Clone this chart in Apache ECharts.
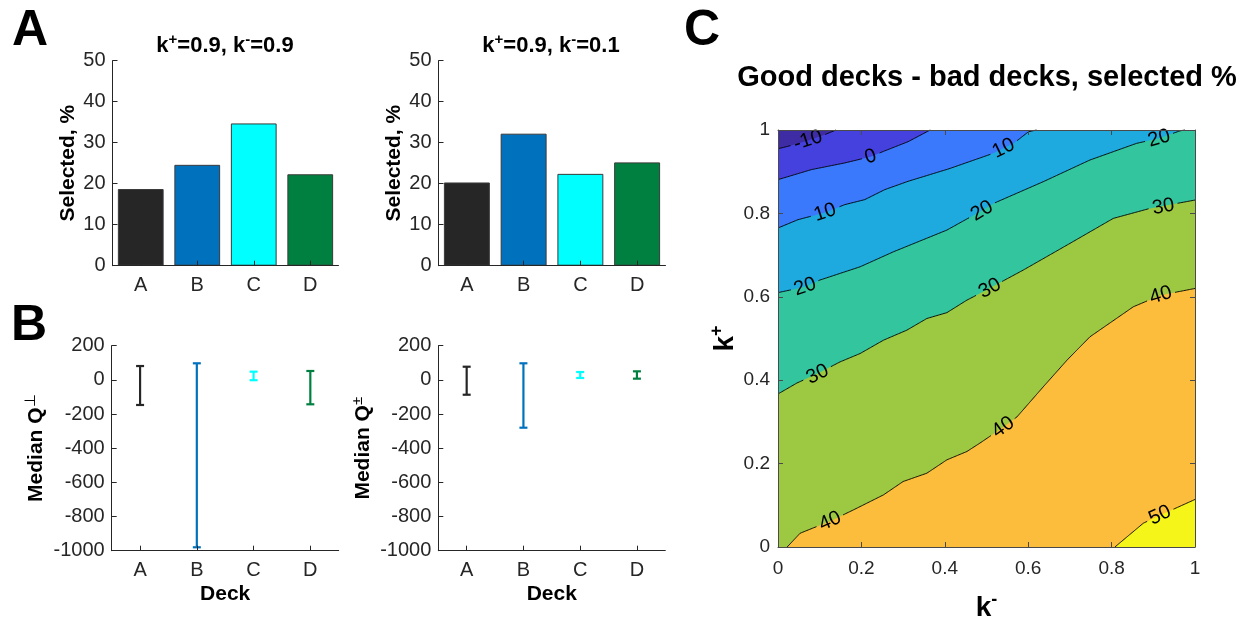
<!DOCTYPE html>
<html><head><meta charset="utf-8">
<script src="https://cdn.jsdelivr.net/npm/echarts@6/dist/echarts.min.js"></script>
<style>html,body{margin:0;padding:0;background:#fff}#c{width:1245px;height:622px}</style>
</head><body><div id="c"></div>
<script>
// ---------- data ----------
const decks = ['A', 'B', 'C', 'D'];
const selectedLeft = [18.7, 24.6, 34.7, 22.3];   // k+=0.9, k-=0.9
const selectedRight = [20.3, 32.2, 22.4, 25.2];  // k+=0.9, k-=0.1
const qLowLeft = [-147, -980, -2, -143];
const qHighLeft = [81, 97, 48, 52];
const qLowRight = [-87, -280, 11, 7];
const qHighRight = [77, 97, 46, 50];

const contourLevels = [-10, 0, 10, 20, 30, 40, 50];
// contour lines, points [k-, k+]
const lineM10 = [[0,0.955],[0.04,0.965],[0.072,0.975],[0.11,0.988],[0.139,1]];
const line0 = [[0,0.881],[0.08,0.905],[0.16,0.921],[0.222,0.936],[0.256,0.95],[0.312,0.972],[0.365,1]];
const line10 = [[0,0.765],[0.048,0.785],[0.113,0.802],[0.16,0.821],[0.208,0.833],[0.256,0.857],[0.312,0.877],[0.41,0.907],[0.516,0.944],[0.565,0.968],[0.601,0.996],[0.62,1]];
const line20 = [[0,0.61],[0.065,0.624],[0.10,0.64],[0.197,0.672],[0.277,0.708],[0.405,0.76],[0.477,0.80],[0.517,0.824],[0.636,0.876],[0.748,0.928],[0.86,0.968],[0.914,0.98],[0.964,0.998],[0.976,1]];
const line30 = [[0,0.367],[0.045,0.393],[0.095,0.416],[0.149,0.444],[0.197,0.464],[0.253,0.496],[0.309,0.52],[0.357,0.548],[0.405,0.562],[0.453,0.592],[0.484,0.608],[0.588,0.664],[0.70,0.728],[0.804,0.788],[0.892,0.812],[1,0.832]];
const line40 = [[0.022,0],[0.053,0.033],[0.125,0.062],[0.181,0.089],[0.253,0.125],[0.30,0.157],[0.357,0.177],[0.405,0.209],[0.453,0.229],[0.484,0.249],[0.54,0.287],[0.573,0.312],[0.636,0.384],[0.693,0.448],[0.748,0.504],[0.852,0.576],[0.918,0.604],[1,0.62]];
const line50 = [[0.808,0],[0.876,0.057],[0.916,0.076],[1,0.114]];
const contourLines = [lineM10, line0, line10, line20, line30, line40, line50];
// contour labels: [level, k-, k+]
const contourLabels = [[-10,0.072,0.975],[0,0.222,0.936],[10,0.113,0.802],[10,0.541,0.956],
  [20,0.065,0.624],[20,0.489,0.806],[20,0.914,0.98],[30,0.095,0.414],[30,0.508,0.62],[30,0.924,0.816],
  [40,0.125,0.062],[40,0.54,0.287],[40,0.918,0.604],[50,0.916,0.076]];

// ---------- styles ----------
const FONT = "'Liberation Sans', Arial, Helvetica, sans-serif";
const AX = '#262626';
const deckColors = ['#262626', '#0072bd', '#00ffff', '#008040'];
const levelColors = ['#3e2ca5', '#4541df', '#3a78fc', '#1ea9df', '#33c59e', '#9dc841', '#fcbd3c', '#f5f519'];
const LABEL_FS = 20;

const grids = [
  {left: 112.5, top: 60.7, width: 226, height: 205},
  {left: 438.5, top: 60.7, width: 227, height: 205},
  {left: 111.7, top: 345.7, width: 227, height: 205},
  {left: 438.3, top: 345.7, width: 227, height: 205},
  {left: 778, top: 130, width: 417, height: 417}
].map(g => Object.assign(g, {containLabel: false, outerBoundsMode: 'none'}));

function catAxis(gi, extra) {
  return Object.assign({
    gridIndex: gi, type: 'category', data: decks, z: 5,
    axisLine: {show: true, onZero: false, lineStyle: {color: AX, width: 1}},
    axisTick: {show: true, inside: true, alignWithLabel: true, length: 5, lineStyle: {color: AX}},
    axisLabel: {color: AX, fontSize: 20, fontFamily: FONT, margin: 10},
    splitLine: {show: false}
  }, extra || {});
}
function valAxis(gi, min, max, interval, extra) {
  return Object.assign({
    gridIndex: gi, type: 'value', min: min, max: max, interval: interval, z: 5,
    axisLine: {show: true, onZero: false, lineStyle: {color: AX, width: 1}},
    axisTick: {show: true, inside: true, length: 5, lineStyle: {color: AX}},
    axisLabel: {color: AX, fontSize: 20, fontFamily: FONT, margin: 7, formatter: v => String(v)},
    splitLine: {show: false}
  }, extra || {});
}
const nameStyle = {fontFamily: FONT, fontSize: 21, fontWeight: 'bold', color: '#000'};
const supRich = (big, small, supWeight) => ({
  b: {fontFamily: FONT, fontSize: big, fontWeight: 'bold', color: '#000', lineHeight: big * 1.25},
  s: {fontFamily: FONT, fontSize: small, fontWeight: supWeight || 'bold', color: '#000', verticalAlign: 'top', lineHeight: small}
});
const cAxisStyle = {
  axisLine: {show: true, onZero: false, lineStyle: {color: '#4a4a4a', width: 1}},
  axisTick: {show: true, inside: true, length: 5, lineStyle: {color: '#4a4a4a'}},
  axisLabel: {color: AX, fontSize: 19, fontFamily: FONT, margin: 12, formatter: v => String(v)}
};

const xAxes = [
  catAxis(0), catAxis(1),
  catAxis(2, {name: 'Deck', nameLocation: 'middle', nameGap: 33, nameTextStyle: nameStyle}),
  catAxis(3, {name: 'Deck', nameLocation: 'middle', nameGap: 33, nameTextStyle: nameStyle}),
  valAxis(4, 0, 1, 0.2, Object.assign({}, cAxisStyle, {name: '{b|k}{s|-}', nameLocation: 'middle', nameGap: 44,
    nameTextStyle: {rich: supRich(28, 18)}})),
  valAxis(4, 0, 1, 0.2, Object.assign({}, cAxisStyle, {position: 'top', axisLabel: {show: false}}))
];
const yAxes = [
  valAxis(0, 0, 50, 10, {name: 'Selected, %', nameLocation: 'middle', nameGap: 34, nameTextStyle: nameStyle}),
  valAxis(1, 0, 50, 10, {name: 'Selected, %', nameLocation: 'middle', nameGap: 34, nameTextStyle: nameStyle}),
  valAxis(2, -1000, 200, 200, {name: '{b|Median Q}{s|⊥}', nameLocation: 'middle', nameGap: 62, nameTextStyle: {rich: supRich(21, 15, 'normal')}}),
  valAxis(3, -1000, 200, 200, {name: '{b|Median Q}{s|±}', nameLocation: 'middle', nameGap: 62, nameTextStyle: {rich: supRich(21, 15, 'normal')}}),
  valAxis(4, 0, 1, 0.2, Object.assign({}, cAxisStyle, {axisLabel: Object.assign({}, cAxisStyle.axisLabel, {margin: 8}),
    name: '{b|k}{s|+}', nameLocation: 'middle', nameGap: 35, nameTextStyle: {rich: supRich(28, 18)}})),
  valAxis(4, 0, 1, 0.2, Object.assign({}, cAxisStyle, {position: 'right', axisLabel: {show: false}}))
];

function barSeries(idx, values) {
  return {
    type: 'bar', xAxisIndex: idx, yAxisIndex: idx, barCategoryGap: '19%', z: 2,
    data: values.map((v, i) => ({value: v, itemStyle: {color: deckColors[i], borderColor: '#3a3a3a', borderWidth: 1}}))
  };
}
function errSeries(idx, lows, highs) {
  return {
    type: 'custom', xAxisIndex: idx, yAxisIndex: idx, z: 3,
    data: lows.map((l, i) => [i, l, highs[i]]),
    encode: {x: 0, y: [1, 2]},
    renderItem: (params, api) => {
      const i = api.value(0);
      const p1 = api.coord([i, api.value(1)]);
      const p2 = api.coord([i, api.value(2)]);
      const c = deckColors[params.dataIndex];
      const st = {stroke: c, lineWidth: 2.2};
      const hw = 4;
      return {type: 'group', children: [
        {type: 'line', shape: {x1: p1[0], y1: p1[1], x2: p2[0], y2: p2[1]}, style: st},
        {type: 'line', shape: {x1: p1[0] - hw, y1: p1[1], x2: p1[0] + hw, y2: p1[1]}, style: st},
        {type: 'line', shape: {x1: p2[0] - hw, y1: p2[1], x2: p2[0] + hw, y2: p2[1]}, style: st}
      ]};
    }
  };
}

// region polygon lying on the high side (lower-right) of a contour line
function boundaryT(p) {
  const e = 1e-6, x = p[0], y = p[1];
  if (y >= 1 - e) return x;
  if (x >= 1 - e) return 1 + (1 - y);
  if (y <= e) return 2 + (1 - x);
  return 3 + y;
}
const corners = [[1, 1], [1, 0], [0, 0], [0, 1]];
function regionPolygon(line) {
  const pts = line.slice();
  const te = boundaryT(line[line.length - 1]);
  let ts = boundaryT(line[0]);
  if (ts <= te) ts += 4;
  for (let k = 1; k <= 8; k++) if (k > te && k < ts) pts.push(corners[(k - 1) % 4]);
  return pts;
}
function gapRadius(lvl) {
  const s = String(lvl);
  const w = (s.replace('-', '').length * 0.556 + (lvl < 0 ? 0.333 : 0)) * LABEL_FS;
  return w / 2 + 3;
}
function densify(api, line) {
  const px = line.map(p => api.coord(p));
  const dense = [];
  for (let i = 0; i < px.length - 1; i++) {
    const a = px[i], b = px[i + 1];
    const L = Math.hypot(b[0] - a[0], b[1] - a[1]);
    const n = Math.max(1, Math.ceil(L / 1.5));
    for (let k = 0; k < n; k++) { const t = k / n; dense.push([a[0] + (b[0] - a[0]) * t, a[1] + (b[1] - a[1]) * t]); }
  }
  dense.push(px[px.length - 1]);
  return dense;
}

const series = [
  barSeries(0, selectedLeft),
  barSeries(1, selectedRight),
  errSeries(2, qLowLeft, qHighLeft),
  errSeries(3, qLowRight, qHighRight),
  { // filled contour regions
    type: 'custom', xAxisIndex: 4, yAxisIndex: 4, z: 1, silent: true,
    data: levelColors.map((c, i) => [i]),
    renderItem: (params, api) => {
      const i = params.dataIndex;
      const poly = i === 0 ? [[0, 0], [1, 0], [1, 1], [0, 1]] : regionPolygon(contourLines[i - 1]);
      return {type: 'polygon', shape: {points: poly.map(p => api.coord(p))}, style: {fill: levelColors[i], stroke: null}};
    }
  },
  { // contour lines with gaps at labels
    type: 'custom', xAxisIndex: 4, yAxisIndex: 4, z: 2, silent: true,
    data: contourLevels.map((l, i) => [i]),
    renderItem: (params, api) => {
      const i = params.dataIndex, lvl = contourLevels[i];
      const dense = densify(api, contourLines[i]);
      const labs = contourLabels.filter(l => l[0] === lvl).map(l => ({c: api.coord([l[1], l[2]]), r: gapRadius(l[0])}));
      const pieces = []; let cur = [];
      dense.forEach(p => {
        const hid = labs.some(l => Math.hypot(p[0] - l.c[0], p[1] - l.c[1]) < l.r);
        if (hid) { if (cur.length > 1) pieces.push(cur); cur = []; } else cur.push(p);
      });
      if (cur.length > 1) pieces.push(cur);
      return {type: 'group', children: pieces.map(pts => ({type: 'polyline', shape: {points: pts}, style: {stroke: '#000', lineWidth: 0.9, fill: null}}))};
    }
  },
  { // contour labels
    type: 'custom', xAxisIndex: 4, yAxisIndex: 4, z: 3, silent: true,
    data: contourLabels.map(l => [l[1], l[2], l[0]]),
    renderItem: (params, api) => {
      const lab = contourLabels[params.dataIndex];
      const lvl = lab[0];
      const c = api.coord([lab[1], lab[2]]);
      const dense = densify(api, contourLines[contourLevels.indexOf(lvl)]);
      let bi = 0, bd = 1e9;
      dense.forEach((p, k) => { const d = Math.hypot(p[0] - c[0], p[1] - c[1]); if (d < bd) { bd = d; bi = k; } });
      const a = dense[Math.max(0, bi - 8)], b = dense[Math.min(dense.length - 1, bi + 8)];
      const ang = Math.atan2(-(b[1] - a[1]), b[0] - a[0]);
      return {type: 'text', x: c[0], y: c[1], rotation: ang,
        style: {text: String(lvl), fill: '#000', font: LABEL_FS + 'px ' + FONT, align: 'center', verticalAlign: 'middle'}};
    }
  }
];

const titleRich = {
  m: {fontFamily: FONT, fontSize: 22, fontWeight: 'bold', fill: '#000', lineHeight: 28},
  s: {fontFamily: FONT, fontSize: 15, fontWeight: 'bold', fill: '#000', verticalAlign: 'top', lineHeight: 15}
};
const graphic = [
  {type: 'text', x: 30, y: 31, style: {text: 'A', font: 'bold 50px ' + FONT, fill: '#000', align: 'center', verticalAlign: 'middle'}},
  {type: 'text', x: 29, y: 326, style: {text: 'B', font: 'bold 50px ' + FONT, fill: '#000', align: 'center', verticalAlign: 'middle'}},
  {type: 'text', x: 702, y: 31, style: {text: 'C', font: 'bold 50px ' + FONT, fill: '#000', align: 'center', verticalAlign: 'middle'}},
  {type: 'text', x: 225, y: 46, style: {text: '{m|k}{s|+}{m|=0.9, k}{s|-}{m|=0.9}', rich: titleRich, align: 'center', verticalAlign: 'middle'}},
  {type: 'text', x: 551, y: 46, style: {text: '{m|k}{s|+}{m|=0.9, k}{s|-}{m|=0.1}', rich: titleRich, align: 'center', verticalAlign: 'middle'}},
  {type: 'text', x: 987, y: 78, style: {text: 'Good decks - bad decks, selected %', font: 'bold 29px ' + FONT, fill: '#000', align: 'center', verticalAlign: 'middle'}}
];

const chart = echarts.init(document.getElementById('c'), null, {renderer: 'canvas'});
chart.setOption({
  animation: false,
  backgroundColor: '#fff',
  grid: grids,
  xAxis: xAxes,
  yAxis: yAxes,
  series: series,
  graphic: graphic
});
</script></body></html>
